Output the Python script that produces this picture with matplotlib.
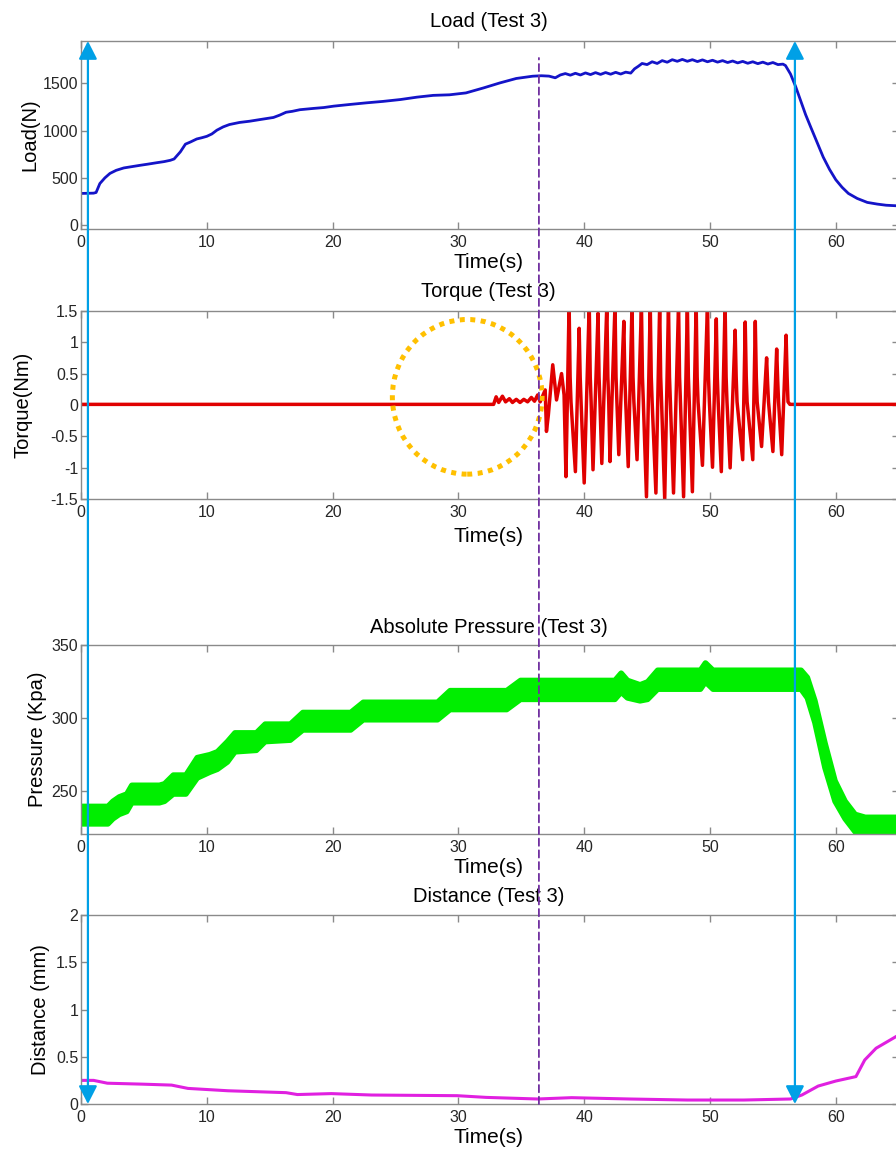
import matplotlib
matplotlib.use("Agg")
import matplotlib.pyplot as plt
from matplotlib.patches import Ellipse, ConnectionPatch
from matplotlib.ticker import FuncFormatter

plt.rcParams['font.family'] = ['Liberation Sans', 'DejaVu Sans']
plt.rcParams['axes.unicode_minus'] = False

# ---------------- data ----------------
load_t = [0, 1.0, 1.2, 1.5, 1.9, 2.3, 2.8, 3.4, 4.0, 4.7, 5.3, 6.0, 6.6, 7.1, 7.4, 7.9, 8.3, 8.7,
          9.2, 9.6, 10.0, 10.4, 10.8, 11.3, 11.8, 12.6, 13.4, 14.2, 15.3, 15.8, 16.3, 16.8, 17.4,
          18.5, 19.3, 20.1, 21.4, 22.7, 24.0, 25.4, 26.7, 28.0, 29.3, 30.6, 32.0, 33.3, 34.6,
          35.9, 36.6, 37.2, 37.7,
          38.1, 38.5, 38.9, 39.3, 39.7, 40.1, 40.5, 40.9, 41.3, 41.7, 42.1, 42.5, 42.9, 43.3,
          43.7, 44.0, 44.3, 44.6, 45.0, 45.4, 45.8, 46.2, 46.6, 47.0, 47.4, 47.8, 48.2, 48.6,
          49.0, 49.4, 49.8, 50.2, 50.6, 51.0, 51.4, 51.8, 52.2, 52.6, 53.0, 53.4, 53.8, 54.2,
          54.6, 55.0, 55.4, 55.8, 56.0, 56.4, 56.8, 57.2, 57.6, 58.0, 58.5, 59.0, 59.5, 60.0,
          60.5, 61.0, 61.7, 62.5, 63.3, 64.0, 65.0]
load_v = [335, 338, 345, 440, 500, 547, 580, 605, 618, 633, 645, 660, 672, 686, 700, 776, 857, 880,
          912, 925, 940, 965, 1005, 1040, 1065, 1087, 1100, 1117, 1140, 1165, 1195, 1205, 1222,
          1236, 1245, 1260, 1278, 1295, 1310, 1330, 1355, 1374, 1380, 1400, 1453, 1506, 1553,
          1577, 1582, 1578, 1560,
          1590, 1605, 1588, 1608, 1590, 1612, 1594, 1615, 1596, 1616, 1598, 1618, 1600, 1620,
          1610, 1655, 1682, 1712, 1700, 1730, 1712, 1742, 1725, 1752, 1735, 1755, 1735, 1752,
          1732, 1750, 1730, 1746, 1726, 1742, 1722, 1738, 1718, 1734, 1714, 1730, 1710, 1726,
          1706, 1722, 1700, 1705, 1690, 1600, 1470, 1320, 1170, 1040, 880, 720, 590, 480,
          400, 335, 282, 240, 222, 210, 203]

torque_t = [0, 32.8, 33.0, 33.2, 33.5, 33.75, 34.05, 34.3, 34.6, 34.9, 35.2, 35.5, 35.8, 36.05,
            36.3, 36.5, 36.9, 37.0, 37.15, 37.5, 37.8, 38.2, 38.4,
            38.55, 38.80, 38.88, 38.95,
            39.30, 39.60, 39.68, 39.75,
            40.00, 40.40, 40.48, 40.55,
            40.70, 41.10, 41.18, 41.25,
            41.40, 41.80, 41.88, 41.95,
            42.05, 42.45, 42.53, 42.60,
            42.75, 43.15, 43.23, 43.30,
            43.50, 43.80, 43.88, 43.95,
            44.20, 44.55, 44.63, 44.70,
            44.95, 45.25, 45.33, 45.40,
            45.70, 46.00, 46.08, 46.15,
            46.40, 46.70, 46.78, 46.85,
            47.10, 47.50, 47.58, 47.65,
            47.90, 48.20, 48.28, 48.35,
            48.60, 48.90, 48.98, 49.05,
            49.40, 49.80, 49.88, 49.95,
            50.20, 50.50, 50.58, 50.65,
            50.90, 51.20, 51.28, 51.35,
            51.60, 52.00, 52.08, 52.15,
            52.60, 52.80, 52.88, 52.95,
            53.40, 53.60, 53.68, 53.75,
            54.10, 54.50, 54.58, 54.65,
            55.00, 55.30, 55.38, 55.45,
            55.70, 56.05, 56.13, 56.20,
            56.35, 65.0]
torque_v = [0.01, 0.01, 0.13, 0.04, 0.14, 0.05, 0.10, 0.04, 0.09, 0.04, 0.09, 0.05, 0.12, 0.06,
            0.16, 0.05, 0.24, -0.42, -0.16, 0.64, 0.08, 0.50, 0.16,
            -1.14, 1.60, 0.45, 0.05,
            -1.06, 1.22, 0.45, 0.05,
            -1.24, 1.60, 0.45, 0.05,
            -1.03, 1.46, 0.45, 0.05,
            -0.93, 1.60, 0.45, 0.05,
            -0.90, 1.60, 0.45, 0.05,
            -0.79, 1.33, 0.45, 0.05,
            -0.98, 1.60, 0.45, 0.05,
            -0.87, 1.60, 0.45, 0.05,
            -1.46, 1.60, 0.45, 0.05,
            -1.40, 1.60, 0.45, 0.05,
            -1.50, 1.60, 0.45, 0.05,
            -1.40, 1.60, 0.45, 0.05,
            -1.46, 1.60, 0.45, 0.05,
            -1.38, 1.60, 0.45, 0.05,
            -0.96, 1.60, 0.45, 0.05,
            -0.99, 1.37, 0.45, 0.05,
            -1.06, 1.60, 0.45, 0.05,
            -1.00, 1.19, 0.45, 0.05,
            -0.87, 1.32, 0.45, 0.05,
            -0.87, 1.33, 0.45, 0.05,
            -0.66, 0.75, 0.35, 0.05,
            -0.74, 0.89, 0.40, 0.05,
            -0.79, 1.11, 0.45, 0.05,
            0.01, 0.01]

pressure_t = [0, 2.1, 2.5, 3.0, 3.6, 4.0, 6.2, 6.6, 7.3, 8.3, 9.2, 10.2, 10.8, 11.6, 12.2, 13.9,
              14.6, 16.6, 17.6, 21.4, 22.4, 28.3, 29.3, 33.8, 34.9, 42.4, 42.9, 43.4, 44.4, 45.0,
              45.8, 49.2, 49.6, 50.2, 57.2, 57.7, 58.3, 59.1, 59.9, 60.7, 61.5, 62.3, 65.0]
pressure_low = [227.5, 227.5, 231, 234, 236, 242, 242, 243, 248, 248, 259, 263, 265, 270, 277, 278,
                284, 285, 292, 292, 299, 299, 306, 306, 313, 313, 318, 314, 312, 313,
                320, 320, 325, 320, 320, 314, 297, 266, 243, 231, 222, 220, 220]
pressure_high = [239.5, 239.5, 243, 246, 248, 254, 254, 255, 261, 261, 273, 275, 277, 284, 290, 290,
                 296, 296, 304, 304, 311, 311, 319, 319, 326, 326, 331, 326, 323, 325,
                 333, 333, 338, 333, 333, 328, 312, 283, 257, 243, 234, 232, 232]

dist_t = [0, 1.0, 2.1, 4.9, 7.2, 8.5, 11.7, 16.3, 17.2, 19.9, 23.1, 29.9, 32.2, 36.3, 39.0,
          43.6, 48.2, 52.7, 56.4, 57.3, 58.6, 60.0, 61.6, 62.3, 63.2, 64.1, 65.0]
dist_v = [0.25, 0.25, 0.22, 0.21, 0.20, 0.165, 0.14, 0.12, 0.10, 0.11, 0.095, 0.088, 0.07, 0.053,
          0.067, 0.053, 0.042, 0.042, 0.053, 0.095, 0.19, 0.243, 0.29, 0.466, 0.59, 0.66, 0.73]

x_ticks = [0, 10, 20, 30, 40, 50, 60]
load_ticks = [0, 500, 1000, 1500]
torque_ticks = [-1.5, -1, -0.5, 0, 0.5, 1, 1.5]
pressure_ticks = [250, 300, 350]
dist_ticks = [0, 0.5, 1, 1.5, 2]

titles = ["Load (Test 3)", "Torque (Test 3)", "Absolute Pressure (Test 3)", "Distance (Test 3)"]
ylabels = ["Load(N)", "Torque(Nm)", "Pressure (Kpa)", "Distance (mm)"]

marker_t = [0.55, 56.75]      # blue arrows
dashed_t = 36.4               # purple dashed line
circle_center = (30.7, 0.13)
circle_size = (11.9, 2.46)

# ---------------- figure ----------------
W, H = 896, 1151
fig = plt.figure(figsize=(W / 100, H / 100), dpi=100)

left_px, right_px = 81, 898.7
boxes = [(41, 229.3), (310.7, 499.3), (645, 834.3), (915, 1104)]
axes = []
for top, bot in boxes:
    ax = fig.add_axes([left_px / W, 1 - bot / H, (right_px - left_px) / W, (bot - top) / H])
    axes.append(ax)

ax1, ax2, ax3, ax4 = axes
ax1.plot(load_t, load_v, color='#1414C8', lw=2.0)
ax1.set_ylim(-45, 1950)
ax1.set_yticks(load_ticks)

ax2.plot(torque_t, torque_v, color='#E00000', lw=2.5)
ax2.set_ylim(-1.5, 1.5)
ax2.set_yticks(torque_ticks)
ax2.yaxis.set_major_formatter(FuncFormatter(lambda v, p: '%g' % v))
ell = Ellipse(circle_center, circle_size[0], circle_size[1], fill=False,
              edgecolor='#FFC000', lw=3.6, linestyle=(0, (1, 1.1)), zorder=5)
ax2.add_patch(ell)

ax3.fill_between(pressure_t, pressure_low, pressure_high, color='#00EE00', lw=4,
                 edgecolor='#00EE00', joinstyle='round')
ax3.set_ylim(220, 350)
ax3.set_yticks(pressure_ticks)

ax4.plot(dist_t, dist_v, color='#E020E0', lw=2.2)
ax4.set_ylim(0, 2)
ax4.set_yticks(dist_ticks)
ax4.yaxis.set_major_formatter(FuncFormatter(lambda v, p: '%g' % v))

ylab_x = [-0.0624, -0.071, -0.0532, -0.050]
xlab_y = [-0.174, -0.195, -0.173, -0.175]
title_y = [1.101, 1.104, 1.095, 1.10]
for i, ax in enumerate(axes):
    ax.set_xlim(0, 65)
    ax.set_xticks(x_ticks)
    for s in ax.spines.values():
        s.set_color('#8a8a8a')
        s.set_linewidth(1.0)
    ax.tick_params(direction='in', length=5, width=1, color='#8a8a8a',
                   labelsize=11.5, labelcolor='#262626', top=True, right=True)
    ax.tick_params(axis='x', pad=4)
    ax.tick_params(axis='y', pad=2)
    ax.set_xlabel('Time(s)', fontsize=15)
    ax.xaxis.label.set_va('center')
    ax.xaxis.set_label_coords(0.4985, xlab_y[i])
    ax.set_ylabel(ylabels[i], fontsize=14.5)
    ax.yaxis.label.set_va('center')
    ax.yaxis.set_label_coords(ylab_x[i], 0.5)
    ax.text(0.4985, title_y[i], titles[i], transform=ax.transAxes, ha='center',
            va='center', fontsize=14.5)

# blue double-headed arrows spanning all panels
for t in marker_t:
    cp = ConnectionPatch(xyA=(t, 0), coordsA=ax4.transData,
                         xyB=(t, 1950), coordsB=ax1.transData,
                         arrowstyle='<|-|>,head_length=0.55,head_width=0.28',
                         mutation_scale=20, shrinkA=0, shrinkB=0,
                         color='#00A0E6', lw=1.6, zorder=10)
    fig.add_artist(cp)

# purple dashed line
cp = ConnectionPatch(xyA=(dashed_t, 0), coordsA=ax4.transData,
                     xyB=(dashed_t, 1770), coordsB=ax1.transData,
                     color='#7030A0', lw=1.3, linestyle=(0, (4, 2.5)), zorder=9)
fig.add_artist(cp)

fig.savefig('out.png', dpi=100)
